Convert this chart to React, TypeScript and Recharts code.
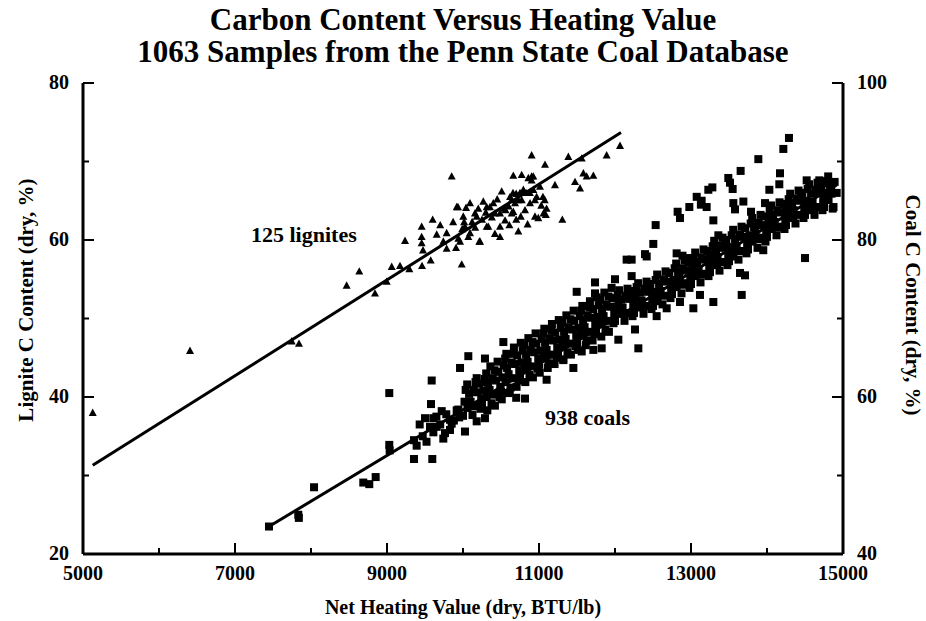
import {
  ScatterChart,
  Scatter,
  XAxis,
  YAxis,
  ReferenceLine,
} from 'recharts'

// ticks (every tick gets a mark, majors get a label)
const X_TICKS = [5000, 6000, 7000, 8000, 9000, 10000, 11000, 12000, 13000, 14000, 15000]
const X_LABELED = [5000, 7000, 9000, 11000, 13000, 15000]
const LIGNITE_TICKS = [20, 30, 40, 50, 60, 70, 80]
const LIGNITE_LABELED = [20, 40, 60, 80]
const COAL_TICKS = [40, 50, 60, 70, 80, 90, 100]
const COAL_LABELED = [40, 60, 80, 100]

// regression lines [BTU/lb, C %]
const LIGNITE_FIT = [[5128, 31.3], [12079, 73.7]]
const COAL_FIT = [[7447, 43.5], [14917, 87.0]]

// lignites (left axis)
const LIGNITE_POINTS = [
  [5128, 38.0], [6408, 45.9], [7746, 47.1], [7842, 46.8], [8469, 54.2], [8635, 56.0], [8842, 53.2],
  [8996, 54.7], [9062, 56.6], [9171, 56.7], [9294, 56.3], [9237, 59.9], [9456, 61.7], [9456, 60.4],
  [9456, 59.6], [9474, 58.7], [9461, 56.7], [9575, 57.4], [9601, 62.6], [9654, 60.7], [9785, 60.9],
  [9741, 59.8], [9785, 58.9], [9851, 68.1], [9917, 64.2], [10004, 63.0], [10015, 62.3], [10026, 61.7],
  [10092, 64.7], [9908, 59.0], [9983, 56.9], [9939, 60.2], [10092, 60.9], [10070, 60.4], [10158, 63.4],
  [10215, 59.8], [10267, 64.9], [10312, 64.2], [10355, 64.2], [10333, 61.7], [10399, 64.7], [10421, 63.4],
  [10487, 63.4], [10487, 61.7], [10487, 60.4], [10509, 66.2], [10553, 62.5], [10619, 65.5], [10641, 65.1],
  [10641, 63.4], [10658, 66.0], [10700, 65.9], [10750, 66.0], [10685, 64.7], [10728, 65.1], [10772, 65.1],
  [10728, 61.1], [10662, 63.6], [10816, 63.8], [10882, 64.7], [10794, 66.4], [10830, 66.0], [10880, 66.0],
  [10925, 66.4], [10860, 67.9], [10903, 67.6], [10772, 68.3], [10903, 68.1], [10925, 68.1], [10903, 70.8],
  [10662, 68.2], [10947, 65.1], [10969, 65.5], [10947, 63.0], [10991, 62.8], [11013, 66.8], [11052, 65.5],
  [11075, 65.1], [11100, 64.0], [11060, 63.4], [11090, 63.2], [11079, 69.6], [11210, 67.0], [11307, 62.6],
  [11386, 70.6], [11474, 67.4], [11540, 66.6], [11562, 70.4], [11584, 68.5], [11627, 68.1], [11715, 68.2],
  [11890, 70.8], [12066, 72.0], [10120, 62.3], [10250, 62.6], [10380, 62.9], [10450, 65.2], [10540, 64.0],
  [10600, 64.3], [10560, 63.8], [10300, 63.5], [10160, 61.6], [9990, 61.4], [10420, 60.8], [10610, 61.9],
  [10700, 62.6], [10040, 64.1], [9870, 62.3], [9700, 61.9], [10201, 64.0], [10224, 59.8], [9961, 59.8],
  [10312, 61.7], [10180, 63.0], [9934, 64.2], [10850, 62.0], [11030, 64.4], [10760, 63.0],
]

// coals (right axis)
const COAL_POINTS = [
  // sparse low-rank end
  [7447, 43.5], [7833, 45.0], [7840, 44.6], [8040, 48.5], [8688, 49.1], [8767, 48.9], [8851, 49.8],
  [9030, 60.5], [9030, 53.9], [9035, 53.2], [9355, 54.5], [9390, 53.8], [9355, 52.1], [9588, 62.1],
  [9579, 59.1], [9500, 57.3], [9609, 57.3], [9596, 52.1], [9566, 56.2], [9654, 56.2], [9741, 54.7],
  [9763, 55.4], [9829, 55.8], [9851, 56.6], [9939, 58.4], [9961, 63.7], [10070, 65.2], [10180, 62.4],
  [10289, 64.9], [10026, 55.6], [10180, 56.9], [10289, 57.3], [9829, 57.1], [9917, 58.3], [10312, 61.9],
  [9470, 55.0], [9520, 54.3], [9650, 57.5], [9700, 56.5], [9780, 57.8], [9880, 57.0], [9950, 57.4],
  [9430, 56.5], [9610, 55.5], [9720, 58.2],
  // main band
  [10000, 57.6], [10020, 59.4], [10035, 60.9], [10060, 58.6], [10080, 60.4], [10055, 61.6],
  [10125, 57.7], [10100, 59.4], [10140, 60.9], [10155, 58.8], [10185, 60.6], [10165, 61.9],
  [10240, 59.8], [10215, 61.7], [10230, 58.5], [10250, 59.0], [10270, 60.8], [10285, 62.3],
  [10310, 60.0], [10330, 61.8], [10305, 63.0], [10320, 58.3], [10375, 59.2], [10350, 60.9],
  [10390, 62.4], [10360, 63.9], [10405, 60.3], [10435, 62.1], [10415, 63.4], [10420, 58.9],
  [10490, 61.3], [10465, 63.2], [10480, 60.0], [10455, 64.5], [10500, 60.7], [10520, 62.5],
  [10535, 64.0], [10510, 59.7], [10560, 61.9], [10580, 63.7], [10555, 64.9], [10570, 65.5],
  [10625, 61.2], [10600, 62.9], [10640, 64.4], [10615, 60.6], [10655, 62.4], [10685, 64.2],
  [10665, 65.5], [10670, 66.3], [10740, 63.4], [10715, 65.3], [10730, 62.1], [10705, 61.3],
  [10750, 62.6], [10770, 64.4], [10785, 65.9], [10760, 66.9], [10810, 63.6], [10830, 65.4],
  [10805, 66.6], [10820, 61.9], [10875, 62.8], [10850, 64.5], [10890, 66.0], [10860, 67.5],
  [10905, 63.9], [10935, 65.7], [10915, 67.0], [10920, 62.5], [10990, 64.9], [10965, 66.8],
  [10980, 63.6], [10955, 68.1], [11000, 64.1], [11020, 65.9], [11035, 67.4], [11010, 63.1],
  [11060, 65.1], [11080, 66.9], [11055, 68.1], [11070, 68.7], [11125, 64.3], [11100, 66.0],
  [11140, 67.5], [11115, 63.7], [11155, 65.4], [11185, 67.2], [11165, 68.5], [11170, 69.3],
  [11240, 66.3], [11215, 68.2], [11230, 65.0], [11205, 64.2], [11250, 65.5], [11270, 67.3],
  [11285, 68.8], [11260, 69.8], [11310, 66.5], [11330, 68.3], [11305, 69.5], [11320, 64.8],
  [11375, 65.7], [11350, 67.4], [11390, 68.9], [11360, 70.4], [11405, 66.8], [11435, 68.6],
  [11415, 69.9], [11420, 65.4], [11490, 67.8], [11465, 69.7], [11480, 66.5], [11455, 71.0],
  [11500, 67.0], [11520, 68.8], [11535, 70.3], [11510, 66.0], [11560, 68.0], [11580, 69.8],
  [11555, 71.0], [11570, 71.6], [11625, 67.2], [11600, 68.9], [11640, 70.4], [11615, 66.6],
  [11655, 68.3], [11685, 70.1], [11665, 71.4], [11670, 72.2], [11740, 69.3], [11715, 71.2],
  [11730, 68.0], [11705, 67.2], [11750, 68.4], [11770, 70.2], [11785, 71.7], [11760, 72.7],
  [11810, 69.4], [11830, 71.2], [11805, 72.4], [11820, 67.7], [11875, 68.6], [11850, 70.3],
  [11890, 71.8], [11860, 73.3], [11905, 69.7], [11935, 71.5], [11915, 72.8], [11920, 68.3],
  [11990, 70.7], [11965, 72.6], [11980, 69.4], [11955, 73.9], [12000, 69.7], [12020, 71.5],
  [12035, 73.0], [12060, 70.6], [12080, 72.4], [12055, 73.6], [12125, 69.7], [12100, 71.4],
  [12140, 72.9], [12155, 70.7], [12185, 72.5], [12165, 73.8], [12240, 71.6], [12215, 73.5],
  [12230, 70.3], [12250, 70.7], [12270, 72.5], [12285, 74.0], [12310, 71.5], [12330, 73.3],
  [12305, 74.5], [12375, 70.6], [12350, 72.3], [12390, 73.8], [12405, 71.6], [12435, 73.4],
  [12415, 74.7], [12490, 72.5], [12465, 74.4], [12480, 71.2], [12500, 71.6], [12520, 73.4],
  [12535, 74.9], [12560, 72.6], [12580, 74.4], [12555, 75.6], [12625, 71.8], [12600, 73.5],
  [12640, 75.0], [12655, 72.9], [12685, 74.7], [12665, 76.0], [12740, 73.9], [12715, 75.8],
  [12730, 72.6], [12750, 73.1], [12770, 74.9], [12785, 76.4], [12810, 74.0], [12830, 75.8],
  [12805, 77.0], [12875, 73.2], [12850, 74.9], [12890, 76.4], [12905, 74.3], [12935, 76.1],
  [12915, 77.4], [12990, 75.2], [12965, 77.1], [12980, 73.9], [13000, 74.4], [13020, 76.2],
  [13035, 77.7], [13060, 75.4], [13080, 77.2], [13055, 78.4], [13125, 74.6], [13100, 76.3],
  [13140, 77.8], [13155, 75.7], [13185, 77.5], [13165, 78.8], [13240, 76.7], [13215, 78.6],
  [13230, 75.4], [13250, 75.9], [13270, 77.7], [13285, 79.2], [13310, 76.9], [13330, 78.7],
  [13305, 79.9], [13375, 76.1], [13350, 77.8], [13390, 79.3], [13405, 77.2], [13435, 79.0],
  [13415, 80.3], [13490, 78.1], [13465, 80.0], [13480, 76.8], [13500, 77.3], [13520, 79.1],
  [13535, 80.6], [13560, 78.3], [13580, 80.1], [13555, 81.3], [13625, 77.5], [13600, 79.2],
  [13640, 80.7], [13655, 78.6], [13685, 80.4], [13665, 81.7], [13740, 79.6], [13715, 81.5],
  [13730, 78.3], [13750, 78.8], [13770, 80.6], [13785, 82.1], [13810, 79.8], [13830, 81.6],
  [13805, 82.8], [13875, 79.0], [13850, 80.7], [13890, 82.2], [13905, 80.1], [13935, 81.9],
  [13915, 83.2], [13990, 81.1], [13965, 83.0], [13980, 79.8], [14000, 80.4], [14020, 82.2],
  [14035, 83.7], [14060, 81.4], [14080, 83.2], [14055, 84.4], [14125, 80.6], [14100, 82.3],
  [14140, 83.8], [14155, 81.7], [14185, 83.5], [14165, 84.8], [14240, 82.7], [14215, 84.6],
  [14230, 81.4], [14250, 81.9], [14270, 83.7], [14285, 85.2], [14310, 82.9], [14330, 84.7],
  [14305, 85.9], [14375, 82.1], [14350, 83.8], [14390, 85.3], [14405, 83.2], [14435, 85.0],
  [14415, 86.3], [14490, 84.1], [14465, 86.0], [14480, 82.8], [14500, 83.2], [14520, 85.0],
  [14535, 86.5], [14560, 84.1], [14580, 85.9], [14555, 87.1], [14625, 83.2], [14600, 84.9],
  [14640, 86.4], [14655, 84.2], [14685, 86.0], [14665, 87.3], [14740, 85.1], [14715, 87.0],
  [14730, 83.8], [14750, 84.2], [14770, 86.0], [14785, 87.5], [14810, 85.1], [14830, 86.9],
  [14805, 88.1], [14875, 84.2], [14850, 85.9], [14890, 87.4],
  // extra fill in the upper band
  [12045, 72.3], [12145, 70.7], [12245, 73.1], [12345, 71.4], [12445, 73.8], [12545, 72.2],
  [12645, 74.8], [12745, 73.4], [12845, 75.9], [12945, 74.5], [13045, 77.0], [13145, 75.6],
  [13245, 78.2], [13345, 76.8], [13445, 79.4], [13545, 77.9], [13645, 80.5], [13745, 79.1],
  [13845, 81.7], [13945, 80.3], [14045, 83.0], [14145, 81.6], [14245, 84.2], [14345, 82.8],
  [14445, 85.4], [14545, 83.8], [14645, 86.2], [14745, 84.6], [14845, 87.0],
  // scatter below the band
  [10597, 60.5], [10700, 59.9], [10816, 59.8], [11100, 62.2], [11320, 64.7], [11452, 63.7],
  [11562, 65.8], [11715, 66.0], [11825, 66.2], [12044, 67.3], [12263, 68.6], [12307, 66.2],
  [12548, 70.3], [12680, 71.3], [12855, 72.1], [13031, 71.3], [13118, 73.0], [13294, 72.1],
  [13667, 73.0], [13645, 75.8], [13711, 75.5], [13951, 78.7], [14500, 77.7], [14864, 84.0],
  // scatter above the band
  [10531, 67.0], [11496, 73.4], [11737, 74.6], [11737, 73.2], [12000, 75.0], [12219, 75.4],
  [12153, 77.5], [12219, 77.5], [12395, 78.2], [12417, 77.9], [12504, 79.5], [12535, 81.9],
  [12824, 83.6], [12855, 82.8], [12811, 78.3], [12888, 78.0], [12965, 77.7], [12978, 84.2],
  [13075, 85.5], [13140, 85.0], [13206, 84.2], [13130, 84.5], [13228, 86.4], [13281, 86.7],
  [13294, 82.5], [13360, 80.6], [13338, 79.1], [13491, 87.9], [13513, 87.3], [13548, 86.5],
  [13557, 84.7], [13579, 83.9], [13653, 88.8], [13689, 84.9], [13790, 83.6], [13886, 90.3],
  [13974, 84.7], [14031, 86.4], [14171, 88.5], [14162, 87.1], [14215, 91.6], [14289, 93.0],
  [14522, 87.6], [14688, 87.6], [14807, 87.2], [14917, 86.0],
]

const FONT = '"Liberation Serif", "Times New Roman", serif'

const lignites = LIGNITE_POINTS.map(([x, y]) => ({ x, y }))
const coals = COAL_POINTS.map(([x, y]) => ({ x, y }))

function Triangle({ cx, cy }: any) {
  return <polygon points={`${cx},${cy - 4.2} ${cx - 4},${cy + 3.2} ${cx + 4},${cy + 3.2}`} fill="#000" />
}

function Square({ cx, cy }: any) {
  return <rect x={cx - 4} y={cy - 4} width={8} height={8} fill="#000" />
}

const tickText = { fontFamily: FONT, fontWeight: 700, fontSize: 20, fill: '#000' }

function XTick({ x, y, payload }: any) {
  const major = X_LABELED.includes(payload.value)
  return (
    <g>
      <line x1={x} x2={x} y1={y} y2={y - (major ? 11 : 6)} stroke="#000" strokeWidth={2} />
      {major && (
        <text x={x} y={y + 21} textAnchor="middle" dominantBaseline="middle" style={tickText}>
          {payload.value}
        </text>
      )}
    </g>
  )
}

function LeftTick({ x, y, payload }: any) {
  const major = LIGNITE_LABELED.includes(payload.value)
  return (
    <g>
      <line x1={x} x2={x + (major ? 11 : 6)} y1={y} y2={y} stroke="#000" strokeWidth={2} />
      {major && (
        <text x={x - 14} y={y + 1} textAnchor="end" dominantBaseline="middle" style={tickText}>
          {payload.value}
        </text>
      )}
    </g>
  )
}

function RightTick({ x, y, payload }: any) {
  const major = COAL_LABELED.includes(payload.value)
  return (
    <g>
      <line x1={x} x2={x - (major ? 11 : 6)} y1={y} y2={y} stroke="#000" strokeWidth={2} />
      {major && (
        <text x={x + 14} y={y + 1} textAnchor="start" dominantBaseline="middle" style={tickText}>
          {payload.value}
        </text>
      )}
    </g>
  )
}

const textBase: React.CSSProperties = {
  position: 'absolute',
  fontFamily: FONT,
  fontWeight: 700,
  color: '#000',
  whiteSpace: 'nowrap',
  lineHeight: 1,
}

export default function App() {
  return (
    <div style={{ position: 'absolute', left: 0, top: 0, width: 926, height: 621, background: '#fff' }}>
      <ScatterChart width={926} height={621} margin={{ top: 83, right: 23, bottom: 37, left: 23 }}>
        <XAxis
          xAxisId="x"
          dataKey="x"
          type="number"
          domain={[5000, 15000]}
          ticks={X_TICKS}
          interval={0}
          height={30}
          tickSize={0}
          tickMargin={0}
          tick={<XTick />}
          axisLine={{ stroke: '#000', strokeWidth: 3 }}
          tickLine={false}
        />
        <XAxis
          xAxisId="top"
          orientation="top"
          type="number"
          domain={[5000, 15000]}
          height={0}
          tick={false}
          tickLine={false}
          axisLine={{ stroke: '#000', strokeWidth: 3 }}
        />
        <YAxis
          yAxisId="lig"
          dataKey="y"
          type="number"
          domain={[20, 80]}
          ticks={LIGNITE_TICKS}
          interval={0}
          width={60}
          tickSize={0}
          tickMargin={0}
          tick={<LeftTick />}
          axisLine={{ stroke: '#000', strokeWidth: 3 }}
          tickLine={false}
        />
        <YAxis
          yAxisId="coal"
          orientation="right"
          dataKey="y"
          type="number"
          domain={[40, 100]}
          ticks={COAL_TICKS}
          interval={0}
          width={60}
          tickSize={0}
          tickMargin={0}
          tick={<RightTick />}
          axisLine={{ stroke: '#000', strokeWidth: 3 }}
          tickLine={false}
        />
        <ReferenceLine
          xAxisId="x"
          yAxisId="lig"
          segment={LIGNITE_FIT.map(([x, y]) => ({ x, y }))}
          stroke="#000"
          strokeWidth={3}
          ifOverflow="visible"
        />
        <ReferenceLine
          xAxisId="x"
          yAxisId="coal"
          segment={COAL_FIT.map(([x, y]) => ({ x, y }))}
          stroke="#000"
          strokeWidth={3}
          ifOverflow="visible"
        />
        <Scatter
          xAxisId="x"
          yAxisId="lig"
          data={lignites}
          shape={<Triangle />}
          isAnimationActive={false}
        />
        <Scatter
          xAxisId="x"
          yAxisId="coal"
          data={coals}
          shape={<Square />}
          isAnimationActive={false}
        />
      </ScatterChart>

      <div style={{ ...textBase, left: 0, top: 4, width: 926, textAlign: 'center', fontSize: 31 }}>
        Carbon Content Versus Heating Value
      </div>
      <div style={{ ...textBase, left: 0, top: 36, width: 926, textAlign: 'center', fontSize: 31 }}>
        1063 Samples from the Penn State Coal Database
      </div>
      <div style={{ ...textBase, left: 0, top: 597, width: 926, textAlign: 'center', fontSize: 20 }}>
        Net Heating Value (dry, BTU/lb)
      </div>
      <div
        style={{
          ...textBase,
          left: 26,
          top: 300,
          fontSize: 21,
          transform: 'translate(-50%, -50%) rotate(-90deg)',
        }}
      >
        Lignite C Content (dry, %)
      </div>
      <div
        style={{
          ...textBase,
          left: 912,
          top: 305,
          fontSize: 21,
          transform: 'translate(-50%, -50%) rotate(90deg)',
        }}
      >
        Coal C Content (dry, %)
      </div>
      <div style={{ ...textBase, left: 251, top: 224, fontSize: 22 }}>125 lignites</div>
      <div style={{ ...textBase, left: 545, top: 407, fontSize: 22 }}>938 coals</div>
    </div>
  )
}
